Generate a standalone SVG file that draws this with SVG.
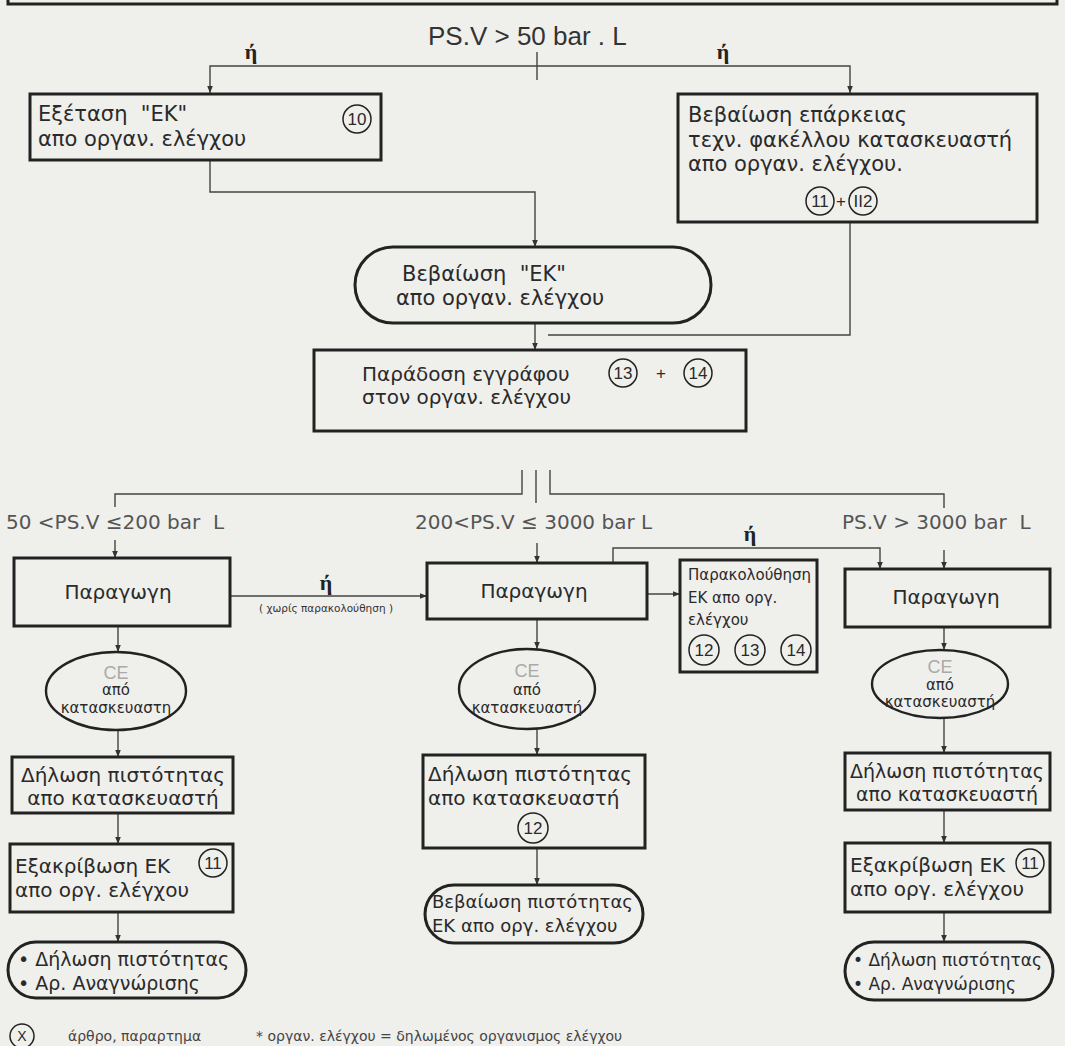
<svg xmlns="http://www.w3.org/2000/svg" width="1065" height="1046" viewBox="0 0 1065 1046">
<defs>
<marker id="ah" viewBox="0 0 10 10" refX="10" refY="5" markerWidth="7" markerHeight="7" orient="auto" markerUnits="userSpaceOnUse"><path d="M0,1 L10,5 L0,9 z" fill="#333"/></marker>
<style>
.bx{fill:none;stroke:#222;stroke-width:3}
.el{fill:none;stroke:#222;stroke-width:2.4}
.cn{fill:none;stroke:#444;stroke-width:1.4}
.cc{fill:none;stroke:#222;stroke-width:1.5}
.t{font-family:"DejaVu Sans",sans-serif;font-size:20px;fill:#2a2a2a;white-space:pre}
.ts{font-family:"DejaVu Sans",sans-serif;font-size:15px;fill:#2a2a2a}
.tn{font-family:"Liberation Sans",sans-serif;font-size:17px;fill:#2a2a2a;text-anchor:middle}
.lb{font-family:"DejaVu Sans",sans-serif;font-size:20px;fill:#555;white-space:pre}
.or{font-family:"Liberation Serif",serif;font-size:22px;font-weight:bold;fill:#222;text-anchor:middle}
.ce{font-family:"Liberation Sans",sans-serif;font-size:18px;fill:#aaa;text-anchor:middle}
.m{text-anchor:middle}
</style>
</defs>
<rect width="1065" height="1046" fill="#efefec"/>
<path d="M8,-4 V4 H1057 V-4" class="bx"/>
<text x="428" y="45" style="font-family:'Liberation Sans',sans-serif;font-size:26px;fill:#333">PS.V &gt; 50 bar . L</text>

<g id="connectors">
<path class="cn" d="M537,52 V80"/>
<path class="cn" d="M537,66 H210 V93" marker-end="url(#ah)"/>
<path class="cn" d="M537,66 H850 V93" marker-end="url(#ah)"/>
<path class="cn" d="M210,160 V192 H535 V247" marker-end="url(#ah)"/>
<path class="cn" d="M850,222 V335 H548"/>
<path class="cn" d="M535,323 V350" marker-end="url(#ah)"/>
<path class="cn" d="M522,470 V494 H115 V507"/>
<path class="cn" d="M536,470 V503"/>
<path class="cn" d="M550,470 V494 H944 V508"/>
<path class="cn" d="M115,540 V558" marker-end="url(#ah)"/>
<path class="cn" d="M537,543 V563" marker-end="url(#ah)"/>
<path class="cn" d="M944,550 V569" marker-end="url(#ah)"/>
<path class="cn" d="M230,596 H427" marker-end="url(#ah)"/>
<path class="cn" d="M613,563 V548 H880 V569" marker-end="url(#ah)"/>
<path class="cn" d="M647,594 H680" marker-end="url(#ah)"/>
<path class="cn" d="M118,626 V652" marker-end="url(#ah)"/>
<path class="cn" d="M118,730 V757" marker-end="url(#ah)"/>
<path class="cn" d="M118,813 V844" marker-end="url(#ah)"/>
<path class="cn" d="M118,912 V942" marker-end="url(#ah)"/>
<path class="cn" d="M537,619 V649" marker-end="url(#ah)"/>
<path class="cn" d="M537,729 V755" marker-end="url(#ah)"/>
<path class="cn" d="M537,848 V885" marker-end="url(#ah)"/>
<path class="cn" d="M944,627 V650" marker-end="url(#ah)"/>
<path class="cn" d="M944,718 V753" marker-end="url(#ah)"/>
<path class="cn" d="M944,810 V843" marker-end="url(#ah)"/>
<path class="cn" d="M944,912 V942" marker-end="url(#ah)"/>
<text class="or" x="251" y="59">ή</text>
<text class="or" x="723" y="59">ή</text>
<text class="or" x="326" y="590">ή</text>
<text x="326" y="612" style="font-family:'DejaVu Sans',sans-serif;font-size:10.5px;fill:#333;text-anchor:middle">( χωρίς παρακολούθηση )</text>
<text class="or" x="750" y="541">ή</text>
<text class="lb" x="6" y="529">50 &lt;PS.V ≤200 bar  L</text>
<text class="lb" x="415" y="529">200&lt;PS.V ≤ 3000 bar L</text>
<text class="lb" x="842" y="529">PS.V &gt; 3000 bar  L</text>
</g>

<g id="n1">
<rect class="bx" x="30" y="94" width="351" height="66"/>
<text class="t" x="38" y="121" style="font-size:21px">Εξέταση  "ΕΚ"</text>
<text class="t" x="38" y="146" style="font-size:21px">απο οργαν. ελέγχου</text>
<circle class="cc" cx="357" cy="119" r="14"/><text class="tn" x="357" y="125">10</text>
</g>

<g id="n2">
<rect class="bx" x="678" y="94" width="359" height="128"/>
<text class="t" x="688" y="122" style="font-size:21px">Βεβαίωση επάρκειας</text>
<text class="t" x="688" y="147" style="font-size:21px">τεχν. φακέλλου κατασκευαστή</text>
<text class="t" x="688" y="171" style="font-size:21px">απο οργαν. ελέγχου.</text>
<circle class="cc" cx="820" cy="201" r="14"/><text class="tn" x="820" y="207">11</text>
<text class="tn" x="841" y="207">+</text>
<circle class="cc" cx="863" cy="201" r="14"/><text class="tn" x="863" y="207">II2</text>
</g>

<g id="n3">
<rect class="bx" x="355" y="247" width="356" height="76" rx="38"/>
<text class="t" x="402" y="281" style="font-size:21px">Βεβαίωση  "ΕΚ"</text>
<text class="t" x="396" y="305" style="font-size:21px">απο οργαν. ελέγχου</text>
</g>

<g id="n4">
<rect class="bx" x="314" y="350" width="432" height="81"/>
<text class="t" x="362" y="381">Παράδοση εγγράφου</text>
<text class="t" x="362" y="404">στον οργαν. ελέγχου</text>
<circle class="cc" cx="623" cy="373" r="14"/><text class="tn" x="623" y="379">13</text>
<text class="tn" x="661" y="379">+</text>
<circle class="cc" cx="698" cy="373" r="14"/><text class="tn" x="698" y="379">14</text>
</g>

<g id="n5">
<rect class="bx" x="14" y="558" width="216" height="68"/>
<text class="t m" x="118" y="599">Παραγωγη</text>
</g>

<g id="n6">
<rect class="bx" x="427" y="563" width="220" height="56"/>
<text class="t m" x="534" y="598">Παραγωγη</text>
</g>

<g id="n7">
<rect class="bx" x="680" y="560" width="137" height="112"/>
<text class="ts" x="688" y="580">Παρακολούθηση</text>
<text class="ts" x="688" y="603">ΕΚ απο οργ.</text>
<text class="ts" x="688" y="625">ελέγχου</text>
<circle class="cc" cx="704" cy="650" r="15"/><text class="tn" x="704" y="656">12</text>
<circle class="cc" cx="750" cy="650" r="15"/><text class="tn" x="750" y="656">13</text>
<circle class="cc" cx="796" cy="650" r="15"/><text class="tn" x="796" y="656">14</text>
</g>

<g id="n8">
<rect class="bx" x="845" y="569" width="205" height="58"/>
<text class="t m" x="946" y="604">Παραγωγη</text>
</g>

<g id="n9">
<ellipse class="el" cx="116" cy="691" rx="70" ry="39"/>
<text class="ce" x="116" y="679">CE</text>
<text class="ts m" x="116" y="695">από</text>
<text class="ts m" x="116" y="713">κατασκευαστη</text>
</g>
<g id="n10">
<rect class="bx" x="12" y="757" width="221" height="56"/>
<text class="t m" x="123" y="782">Δήλωση πιστότητας</text>
<text class="t m" x="123" y="805">απο κατασκευαστή</text>
</g>
<g id="n11">
<rect class="bx" x="10" y="844" width="223" height="68"/>
<text class="t" x="15" y="873">Εξακρίβωση ΕΚ</text>
<text class="t" x="15" y="897">απο οργ. ελέγχου</text>
<circle class="cc" cx="213" cy="863" r="14"/><text class="tn" x="213" y="869">11</text>
</g>
<g id="n12">
<rect class="bx" x="8" y="942" width="238" height="56" rx="28"/>
<text class="t" x="18" y="966" style="font-size:19px">• Δήλωση πιστότητας</text>
<text class="t" x="18" y="990" style="font-size:19px">• Αρ. Αναγνώρισης</text>
</g>

<g id="n13">
<ellipse class="el" cx="527" cy="689" rx="68" ry="40"/>
<text class="ce" x="527" y="677">CE</text>
<text class="ts m" x="527" y="695">από</text>
<text class="ts m" x="527" y="713">κατασκευαστή</text>
</g>
<g id="n14">
<rect class="bx" x="423" y="755" width="222" height="93"/>
<text class="t" x="428" y="781">Δήλωση πιστότητας</text>
<text class="t" x="428" y="805">απο κατασκευαστή</text>
<circle class="cc" cx="533" cy="828" r="15"/><text class="tn" x="533" y="834">12</text>
</g>
<g id="n15">
<rect class="bx" x="425" y="885" width="218" height="58" rx="29"/>
<text class="t" x="432" y="908" style="font-size:18px">Βεβαίωση πιστότητας</text>
<text class="t" x="432" y="932" style="font-size:18px">ΕΚ απο οργ. ελέγχου</text>
</g>

<g id="n16">
<ellipse class="el" cx="940" cy="684" rx="68" ry="34"/>
<text class="ce" x="940" y="673">CE</text>
<text class="ts m" x="940" y="690">από</text>
<text class="ts m" x="940" y="707">κατασκευαστή</text>
</g>
<g id="n17">
<rect class="bx" x="845" y="753" width="205" height="57"/>
<text class="t m" x="947" y="778" style="font-size:19px">Δήλωση πιστότητας</text>
<text class="t m" x="947" y="801" style="font-size:19px">απο κατασκευαστή</text>
</g>
<g id="n18">
<rect class="bx" x="845" y="843" width="205" height="69"/>
<text class="t" x="850" y="872">Εξακρίβωση ΕΚ</text>
<text class="t" x="850" y="896">απο οργ. ελέγχου</text>
<circle class="cc" cx="1030" cy="863" r="14"/><text class="tn" x="1030" y="869">11</text>
</g>
<g id="n19">
<rect class="bx" x="845" y="942" width="208" height="58" rx="29"/>
<text class="t" x="853" y="966" style="font-size:17px">• Δήλωση πιστότητας</text>
<text class="t" x="853" y="990" style="font-size:17px">• Αρ. Αναγνώρισης</text>
</g>

<g id="legend">
<circle class="cc" cx="22" cy="1036" r="12"/><text class="tn" x="22" y="1041" style="font-size:14px">X</text>
<text class="ts" x="68" y="1041" style="font-size:14px;fill:#444">άρθρο, παραρτημα</text>
<text class="ts" x="256" y="1041" style="font-size:14px;fill:#444">* οργαν. ελέγχου = δηλωμένος οργανισμος ελέγχου</text>
</g>
</svg>
